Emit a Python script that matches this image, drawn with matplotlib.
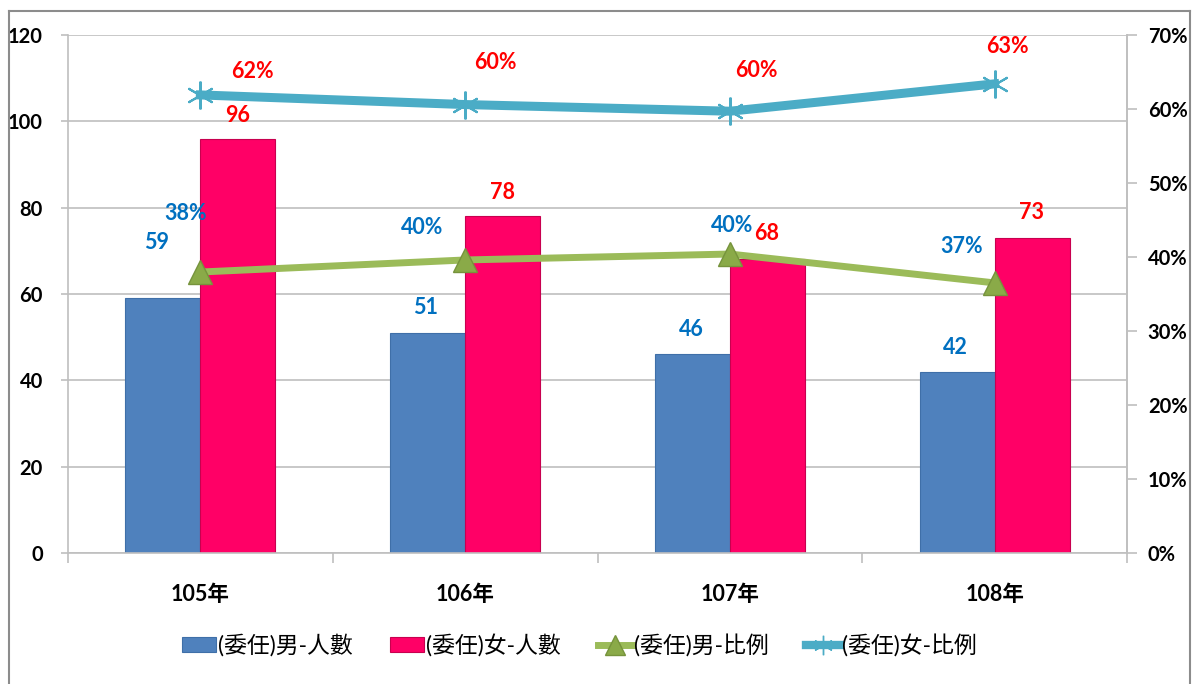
import matplotlib
matplotlib.use("Agg")
import matplotlib.pyplot as plt
import numpy as np
from matplotlib.lines import Line2D

plt.rcParams['font.family'] = ['Lato', 'Noto Sans CJK TC', 'DejaVu Sans']

# ---------------- data ----------------
years = ['105年', '106年', '107年', '108年']
male_cnt = [59, 51, 46, 42]
female_cnt = [96, 78, 68, 73]
male_pct = [37.97, 39.6, 40.4, 36.5]
female_pct = [61.9, 60.6, 59.7, 63.4]
male_pct_lbl = ['38%', '40%', '40%', '37%']
female_pct_lbl = ['62%', '60%', '60%', '63%']
legend_names = ['(委任)男-人數', '(委任)女-人數', '(委任)男-比例', '(委任)女-比例']

# label offsets in pixels (dx, dy)
male_cnt_off = [(-6, 56), (-2, 25), (-1, 25), (-2, 24)]
female_cnt_off = [(0, 23), (0, 24), (-1, 26), (-1, 25)]
male_pct_off = [(-15, 59), (-43, 32), (2, 29), (-33, 36)]
female_pct_off = [(52, 23), (30, 42), (27, 41), (13, 37)]

c_blue = '#4F81BD'
c_pink = '#FF0066'
c_green = '#9BBB59'
c_teal = '#4BACC6'
c_lblue = '#0070C0'
c_red = '#FF0000'
c_grid = '#BFBFBF'

fs = 15.5
fs_tick = 14.5

fig = plt.figure(figsize=(11.97, 6.84), dpi=100)
ax = fig.add_axes([68/1197, 1-553/684, (1127-68)/1197, (553-35)/684])
ax2 = ax.twinx()

x = np.arange(len(years))
w = 0.283
b1 = ax.bar(x - w/2, male_cnt, w, color=c_blue, edgecolor='#3F6FA8', linewidth=0.8, zorder=2)
b2 = ax.bar(x + w/2, female_cnt, w, color=c_pink, edgecolor='#C8004F', linewidth=0.8, zorder=2)

ax.set_xlim(-0.5, len(years) - 0.5)
ax.set_ylim(0, 120)
ax.set_yticks(np.arange(0, 121, 20))
ax.yaxis.grid(True, color=c_grid, linewidth=1.2, zorder=0)
ax.set_axisbelow(True)
ax.set_xticks(x)
ax.set_xticklabels(years, fontsize=fs, fontweight='bold')
ax.tick_params(axis='x', length=0, pad=22)
ax.set_xticks(np.arange(-0.5, len(years)), minor=True)
ax.tick_params(axis='x', which='minor', length=7, color=c_grid, width=1.2)
ax.tick_params(axis='y', length=5, color=c_grid, width=1.2, pad=13, labelsize=fs_tick)
for t in ax.get_yticklabels():
    t.set_fontweight('bold')

for s in ['left', 'bottom', 'right']:
    ax.spines[s].set_color(c_grid)
    ax.spines[s].set_linewidth(1.2)
ax.spines['top'].set_visible(False)

l1, = ax2.plot(x, male_pct, color=c_green, linewidth=5, marker='^', markersize=17,
               markerfacecolor='#8AAA48', markeredgecolor='#76933C', zorder=3)
l2, = ax2.plot(x, female_pct, color=c_teal, linewidth=6.5, marker=(6, 2, 0), markersize=20,
               markeredgewidth=1.5, markeredgecolor=c_teal, zorder=3)
ax2.set_ylim(0, 70)
ax2.set_yticks(np.arange(0, 71, 10))
ax2.set_yticklabels([f'{v}%' for v in range(0, 71, 10)])
ax2.tick_params(axis='y', length=7, color=c_grid, width=1.2, pad=8, labelsize=fs_tick)
for t in ax2.get_yticklabels():
    t.set_fontweight('bold')
for s in ax2.spines.values():
    s.set_visible(False)
ax2.spines['right'].set_visible(True)
ax2.spines['right'].set_color(c_grid)
ax2.spines['right'].set_linewidth(1.2)

k = 0.72  # px -> pt
for i in x:
    ax.annotate(str(male_cnt[i]), (x[i] - w/2, male_cnt[i]), xytext=(male_cnt_off[i][0]*k, male_cnt_off[i][1]*k),
                textcoords='offset points', ha='center', va='center', color=c_lblue,
                fontsize=fs, fontweight='bold')
    ax.annotate(str(female_cnt[i]), (x[i] + w/2, female_cnt[i]), xytext=(female_cnt_off[i][0]*k, female_cnt_off[i][1]*k),
                textcoords='offset points', ha='center', va='center', color=c_red,
                fontsize=fs, fontweight='bold')
    ax2.annotate(male_pct_lbl[i], (x[i], male_pct[i]), xytext=(male_pct_off[i][0]*k, male_pct_off[i][1]*k),
                 textcoords='offset points', ha='center', va='center', color=c_lblue,
                 fontsize=fs, fontweight='bold', zorder=5)
    ax2.annotate(female_pct_lbl[i], (x[i], female_pct[i]), xytext=(female_pct_off[i][0]*k, female_pct_off[i][1]*k),
                 textcoords='offset points', ha='center', va='center', color=c_red,
                 fontsize=fs, fontweight='bold', zorder=5)

# legend
h3 = Line2D([], [], color=c_green, linewidth=5, marker='^', markersize=14,
            markerfacecolor='#8AAA48', markeredgecolor='#76933C')
h4 = Line2D([], [], color=c_teal, linewidth=6, marker=(6, 2, 0), markersize=14,
            markeredgecolor=c_teal)
fig.legend([b1, b2, h3, h4], legend_names, loc='center', bbox_to_anchor=(0.484, 1-645/684),
           ncol=4, frameon=False, fontsize=16.5, handlelength=1.5, handleheight=0.6,
           handletextpad=0.1, columnspacing=1.6)

# outer frame
fig.add_artist(Line2D([9/1197, 9/1197], [0, 1-11/684], transform=fig.transFigure, color='#8C8C8C', linewidth=1.5))
fig.add_artist(Line2D([9/1197, 1190/1197], [1-11/684, 1-11/684], transform=fig.transFigure, color='#8C8C8C', linewidth=1.5))
fig.add_artist(Line2D([1190/1197, 1190/1197], [0, 1-11/684], transform=fig.transFigure, color='#8C8C8C', linewidth=1.5))

fig.savefig('out.png', dpi=100)
